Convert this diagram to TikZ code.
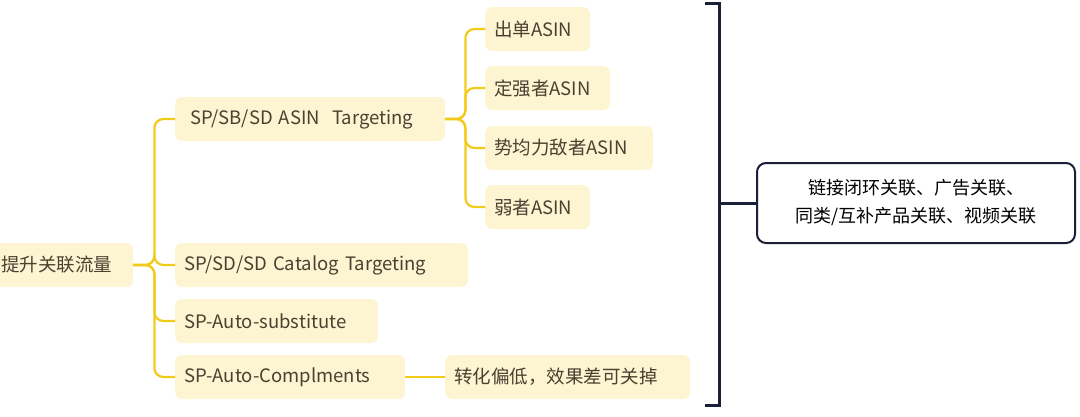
\documentclass[tikz,border=0pt]{standalone}
\usepackage{fontspec}
\setmainfont{Noto Sans CJK SC}
\begin{document}
\begin{tikzpicture}[x=1pt,y=-1pt,
  topic/.style={fill=boxfill,rounded corners=7pt,text=txt,font=\fontsize{18.5}{22}\selectfont,minimum height=44pt,inner xsep=9pt,text width=#1,align=left,anchor=west},
  link/.style={draw=linec,line width=2.2pt,rounded corners=9pt}]
\definecolor{boxfill}{HTML}{FDF4D2}
\definecolor{linec}{HTML}{F2CB1A}
\definecolor{txt}{HTML}{4A4030}
\definecolor{navy}{HTML}{1C1F38}
\useasboundingbox (0,0) rectangle (1080,416);
\node[topic=136pt,inner xsep=4pt] (root) at (-11,265) {\hspace*{8pt}提升关联流量};
\node[topic=252pt] (a) at (175,119) {\hspace*{6pt}SP/SB/SD ASIN\ \ Targeting};
\node[topic=275pt] (b) at (175,265) {SP/SD/SD Catalog Targeting};
\node[topic=185pt] (c) at (175,321) {SP-Auto-substitute};
\node[topic=212pt] (d) at (175,377) {SP-Auto-Complments};
\node[topic=227pt] (e) at (445,377) {转化偏低，效果差可关掉};
\node[topic=87pt] (a1) at (485,29) {出单ASIN};
\node[topic=107pt] (a2) at (485,88) {定强者ASIN};
\node[topic=150pt] (a3) at (485,148) {势均力敌者ASIN};
\node[topic=87pt] (a4) at (485,207) {弱者ASIN};
\foreach \n in {a,b,c,d} \draw[link] (root.east) -- ++(21,0) |- (\n.west);
\foreach \n in {a1,a2,a3,a4} \draw[link] (a.east) -- ++(20,0) |- (\n.west);
\draw[link] (d.east) -- (e.west);
\node[draw=navy,line width=2pt,rounded corners=9pt,fill=white,text=black,font=\fontsize{18}{28}\selectfont,align=center,minimum width=318pt,minimum height=80pt] (note) at (916,203) {链接闭环关联、广告关联、\\同类/互补产品关联、视频关联};
\coordinate (bt) at (705,3);
\coordinate (bb) at (705,405);
\draw[navy,line width=3pt] (bt) -- ++(14,0) |- (bb);
\draw[navy,line width=3pt] (719,203) -- (note.west);
\end{tikzpicture}
\end{document}
